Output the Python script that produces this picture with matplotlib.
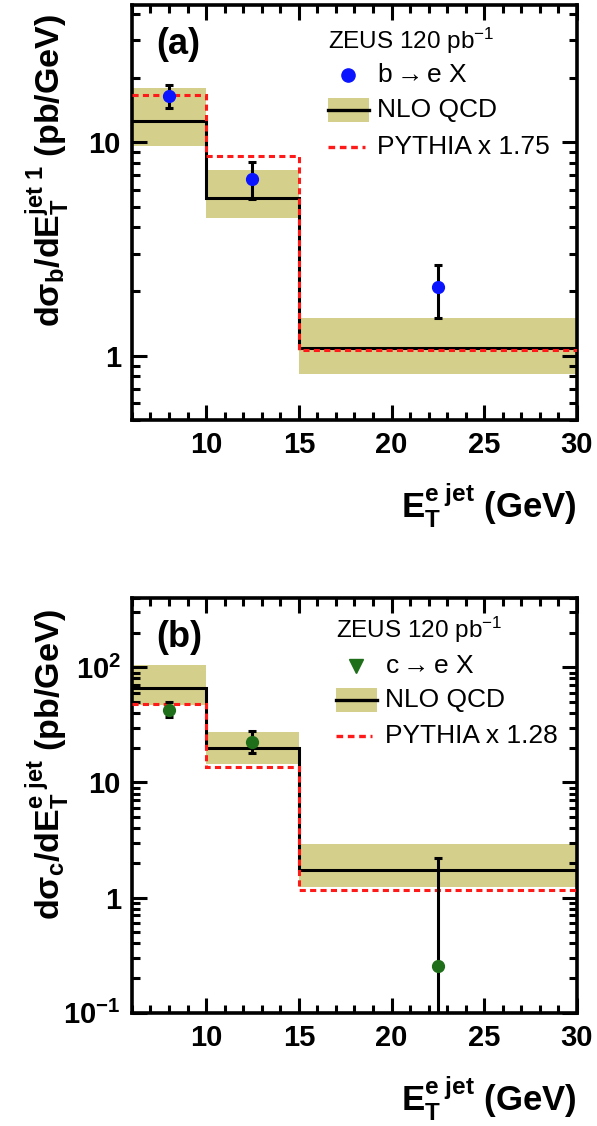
import matplotlib
matplotlib.use("Agg")
import matplotlib.pyplot as plt
from matplotlib.ticker import FixedLocator, FixedFormatter, MultipleLocator, LogLocator, NullFormatter
import numpy as np

plt.rcParams['font.family'] = ['Liberation Sans', 'DejaVu Sans']
plt.rcParams['mathtext.fontset'] = 'custom'
plt.rcParams['mathtext.rm'] = 'Liberation Sans'
plt.rcParams['mathtext.it'] = 'Liberation Sans:italic'
plt.rcParams['mathtext.bf'] = 'Liberation Sans:bold'
plt.rcParams['mathtext.sf'] = 'Liberation Sans'

# bin edges in E_T (GeV) and data point centres
edges = [6, 10, 15, 30]
centres = [8, 12.5, 22.5]

# (a) beauty
b_data = [16.5, 6.76, 2.09]
b_err_up = [2.1, 1.35, 0.57]
b_err_dn = [2.0, 1.36, 0.58]
b_nlo = [12.6, 5.5, 1.09]
b_nlo_hi = [17.9, 7.4, 1.50]
b_nlo_lo = [9.6, 4.4, 0.82]
b_pythia = [16.6, 8.6, 1.06]

# (b) charm
c_data = [42.4, 22.6, 0.255]
c_err_up = [7.6, 5.2, 1.97]
c_err_dn = [5.6, 4.6, 0.25]
c_nlo = [65.6, 19.9, 1.72]
c_nlo_hi = [104, 27.4, 2.94]
c_nlo_lo = [47.5, 14.4, 1.23]
c_pythia = [48.2, 13.7, 1.17]

band_col = '#d4cf8a'
red = '#ff1a1a'

fig = plt.figure(figsize=(5.97, 11.26), dpi=100)
ax_a = fig.add_axes([0.221, 0.627, 0.7455, 0.3686])
ax_b = fig.add_axes([0.221, 0.1006, 0.7455, 0.3683])


def draw_panel(ax, data, eup, edn, nlo, hi, lo, pyth, mcol, ylim, yticks, ylabels,
               tag, proc, mleg, scale, ylab, leg_rows, leg_x):
    ax.set_yscale('log')
    ax.stairs(hi, edges, baseline=lo, fill=True, color=band_col, lw=0, zorder=1)
    ax.stairs(nlo, edges, baseline=None, color='black', lw=2.2, zorder=2)
    ax.stairs(pyth, edges, baseline=None, color=red, lw=2.2,
              linestyle=(0, (2.0, 1.4)), zorder=3)
    ax.errorbar(centres, data, yerr=[edn, eup], fmt='o', color=mcol, ms=8.5,
                ecolor='black', elinewidth=2.2, capsize=3, capthick=2.2, zorder=4)

    ax.set_xlim(6, 30)
    ax.set_ylim(*ylim)
    ax.xaxis.set_major_locator(FixedLocator([10, 15, 20, 25, 30]))
    ax.xaxis.set_minor_locator(MultipleLocator(1))
    ax.yaxis.set_major_locator(FixedLocator(yticks))
    ax.yaxis.set_major_formatter(FixedFormatter(ylabels))
    ax.yaxis.set_minor_locator(LogLocator(base=10, subs=np.arange(2, 10)))
    ax.yaxis.set_minor_formatter(NullFormatter())
    ax.tick_params(which='both', direction='in', top=True, right=True, width=2.2,
                   labelsize=21)
    ax.tick_params(which='major', length=11, pad=8)
    ax.tick_params(which='minor', length=5.5)
    for lab in ax.get_xticklabels() + ax.get_yticklabels():
        lab.set_fontweight('bold')
    for sp in ax.spines.values():
        sp.set_linewidth(2.6)

    ax.set_ylabel(ylab, fontsize=24.5)
    ax.yaxis.set_label_coords(-0.135, 0.6)
    ax.set_xlabel(r'$\mathbf{E_{T}^{e\ jet}\ (GeV)}$', fontsize=25, ha='right')
    ax.xaxis.set_label_coords(1.0, -0.15)

    ax.text(0.055, 0.905, tag, transform=ax.transAxes, fontsize=26,
            fontweight='bold', va='center')

    # legend drawn by hand
    tr = ax.transAxes
    x0, xm, xt, x1 = leg_x
    r0, r1, r2, r3 = leg_rows
    ax.text(x0, r0, 'ZEUS 120 pb$^{\\mathregular{-1}}$', transform=tr,
            fontsize=17.5, va='center')
    ax.plot([xm], [r1], marker=mleg, color=mcol, ms=9.5, transform=tr, clip_on=False)
    ax.text(xt, r1, proc, transform=tr, fontsize=19, va='center')
    ax.add_patch(plt.Rectangle((x0, r2 - 0.029), x1 - x0, 0.058, transform=tr,
                               color=band_col, lw=0))
    ax.plot([x0, x1], [r2, r2], color='black', lw=2.4, transform=tr)
    ax.text(xt, r2, 'NLO QCD', transform=tr, fontsize=19, va='center')
    ax.plot([x0, x1 - 0.01], [r3, r3], color=red, lw=2.4,
            linestyle=(0, (2.0, 1.4)), transform=tr)
    ax.text(xt, r3, 'PYTHIA x ' + scale, transform=tr, fontsize=19, va='center')


draw_panel(ax_a, b_data, b_err_up, b_err_dn, b_nlo, b_nlo_hi, b_nlo_lo, b_pythia,
           '#0a14ff', (0.5, 44), [1, 10], ['1', '10'], '(a)',
           r'b$\rightarrow$e X', 'o', '1.75',
           r'$\mathbf{d\sigma_{b}/dE_{T}^{jet\ 1}\ (pb/GeV)}$',
           (0.913, 0.831, 0.747, 0.658), (0.44, 0.485, 0.551, 0.533))

draw_panel(ax_b, c_data, c_err_up, c_err_dn, c_nlo, c_nlo_hi, c_nlo_lo, c_pythia,
           '#1f6e1a', (0.1, 400), [0.1, 1, 10, 100],
           [r'$\mathbf{10^{-1}}$', '1', '10', r'$\mathbf{10^{2}}$'], '(b)',
           r'c$\rightarrow$e X', 'v', '1.28',
           r'$\mathbf{d\sigma_{c}/dE_{T}^{e\ jet}\ (pb/GeV)}$',
           (0.923, 0.836, 0.754, 0.668), (0.458, 0.503, 0.569, 0.55))

fig.savefig('out.png', dpi=100)
